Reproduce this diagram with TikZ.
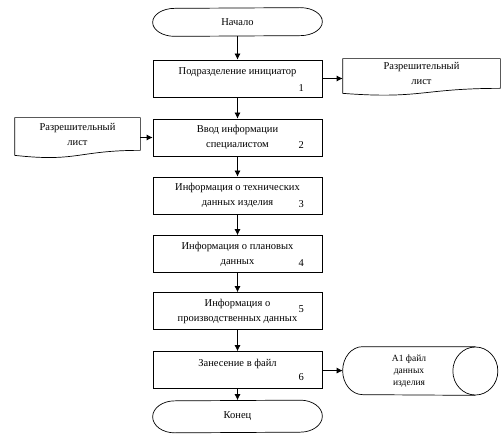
\documentclass[tikz,border=0pt]{standalone}
\usepackage{fontspec}
\setmainfont{Liberation Serif}
\usetikzlibrary{arrows.meta,positioning,calc}

\begin{document}
\begin{tikzpicture}[x=1pt,y=-1pt,line width=0.7pt,
    font=\fontsize{10.5}{15}\selectfont,
    arr/.style={-{Latex[length=6pt,width=6pt]}},
    block/.style={draw,rectangle,minimum width=169pt,minimum height=37pt,align=center,inner sep=0pt},
    term/.style={rectangle,minimum width=169pt,inner sep=0pt},
    doc/.style={align=center,inner sep=0pt},
    num/.style={inner sep=0pt}]
    \useasboundingbox (0,0) rectangle (502,443);

    \node[term,minimum height=28pt] (start) at (237.5,22) {Начало};
    \foreach \i/\yy/\dy/\txt in {
        1/78.5/9/{Подразделение инициатор\\~},
        2/137.5/11/{Ввод информации\\специалистом},
        3/195.5/10/{Информация о технических\\данных изделия},
        4/254/10/{Информация о плановых\\данных},
        5/311/21/{Информация о\\производственных данных},
        6/370/12/{Занесение в файл\\~}} {
      \node[block] (b\i) at (237.5,\yy) {\txt};
      \node[num] (n\i) at ($(b\i.south east)+(-21,-\dy)$) {\i};
    }
    \node[term,minimum height=32pt] (end) at (237.5,416.5) {Конец};
    \foreach \n/\r in {start/14,end/16} {
      \draw ($(\n.north east)+(-22,0)$) arc (270:450:22 and \r)
        -- ($(\n.south west)+(22,0)$) arc (90:270:22 and \r) -- cycle;
    }

    \draw[arr] (start) -- (b1);
    \foreach \i [count=\j from 2] in {1,...,5} {
      \draw[arr] (b\i) -- (b\j);
    }
    \draw[arr] (b6) -- (end);

    % documents
    \node[doc,minimum width=157pt,minimum height=29pt] (out1) at (421.5,73.5) {Разрешительный\\лист};
    \draw (out1.north west) -- (out1.north east) -- (out1.south east)
      .. controls (out1.south) and ($(out1.south)+(0,11)$) .. ($(out1.south west)+(0,5)$) -- cycle;
    \node[doc,minimum width=125pt,minimum height=32pt] (in1) at (77.5,134) {Разрешительный\\лист};
    \draw (in1.north west) -- (in1.north east) -- (in1.south east)
      .. controls (in1.south) and ($(in1.south)+(0,12)$) .. ($(in1.south west)+(0,5)$) -- cycle;
    \draw[arr] (b1.east) -- (b1.east -| out1.west);
    \draw[arr] (in1.east |- b2) -- (b2.west);

    % data file
    \node[doc,minimum width=132pt,minimum height=48pt,font=\fontsize{9.5}{12}\selectfont] (store) at (409,371) {A1 файл\\данных\\изделия};
    \draw (store.north east) -- ($(store.north west)+(20,0)$) arc (270:90:20 and 24) -- (store.south east);
    \draw (store.east) ellipse (22.5 and 24);
    \draw[arr] (b6) -- (store);
\end{tikzpicture}
\end{document}
